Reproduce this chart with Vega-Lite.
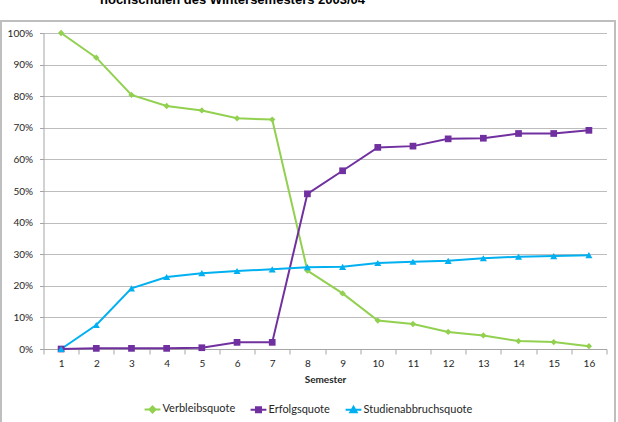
{
  "$schema": "https://vega.github.io/schema/vega-lite/v6.json",
  "autosize": {"type": "none"},
  "width": 563,
  "height": 316,
  "padding": {"left": 43.5, "top": 33, "right": 11.5, "bottom": 73},
  "background": "white",
  "title": {
    "text": "hochschulen des Wintersemesters 2003/04",
    "anchor": "start",
    "frame": "group",
    "dx": 56.5,
    "offset": 3,
    "baseline": "alphabetic",
    "font": "Liberation Sans",
    "fontSize": 13,
    "fontWeight": "bold",
    "color": "#000000"
  },
  "config": {
    "view": {"stroke": null},
    "axis": {"labelFont": "Lato", "labelFontSize": 10, "labelColor": "#262626", "titleFont": "Lato", "titleColor": "#262626"}
  },
  "data": {
    "values": [
      {"Semester": 1, "Reihe": "Verbleibsquote", "Wert": 100},
      {"Semester": 2, "Reihe": "Verbleibsquote", "Wert": 92.2},
      {"Semester": 3, "Reihe": "Verbleibsquote", "Wert": 80.4},
      {"Semester": 4, "Reihe": "Verbleibsquote", "Wert": 76.9},
      {"Semester": 5, "Reihe": "Verbleibsquote", "Wert": 75.5},
      {"Semester": 6, "Reihe": "Verbleibsquote", "Wert": 73.0},
      {"Semester": 7, "Reihe": "Verbleibsquote", "Wert": 72.6},
      {"Semester": 8, "Reihe": "Verbleibsquote", "Wert": 24.8},
      {"Semester": 9, "Reihe": "Verbleibsquote", "Wert": 17.6},
      {"Semester": 10, "Reihe": "Verbleibsquote", "Wert": 9.0},
      {"Semester": 11, "Reihe": "Verbleibsquote", "Wert": 7.9},
      {"Semester": 12, "Reihe": "Verbleibsquote", "Wert": 5.4},
      {"Semester": 13, "Reihe": "Verbleibsquote", "Wert": 4.3},
      {"Semester": 14, "Reihe": "Verbleibsquote", "Wert": 2.5},
      {"Semester": 15, "Reihe": "Verbleibsquote", "Wert": 2.2},
      {"Semester": 16, "Reihe": "Verbleibsquote", "Wert": 0.9},
      {"Semester": 1, "Reihe": "Erfolgsquote", "Wert": 0},
      {"Semester": 2, "Reihe": "Erfolgsquote", "Wert": 0.2},
      {"Semester": 3, "Reihe": "Erfolgsquote", "Wert": 0.2},
      {"Semester": 4, "Reihe": "Erfolgsquote", "Wert": 0.2},
      {"Semester": 5, "Reihe": "Erfolgsquote", "Wert": 0.4},
      {"Semester": 6, "Reihe": "Erfolgsquote", "Wert": 2.1},
      {"Semester": 7, "Reihe": "Erfolgsquote", "Wert": 2.1},
      {"Semester": 8, "Reihe": "Erfolgsquote", "Wert": 49.1},
      {"Semester": 9, "Reihe": "Erfolgsquote", "Wert": 56.4},
      {"Semester": 10, "Reihe": "Erfolgsquote", "Wert": 63.8},
      {"Semester": 11, "Reihe": "Erfolgsquote", "Wert": 64.2},
      {"Semester": 12, "Reihe": "Erfolgsquote", "Wert": 66.5},
      {"Semester": 13, "Reihe": "Erfolgsquote", "Wert": 66.7},
      {"Semester": 14, "Reihe": "Erfolgsquote", "Wert": 68.2},
      {"Semester": 15, "Reihe": "Erfolgsquote", "Wert": 68.2},
      {"Semester": 16, "Reihe": "Erfolgsquote", "Wert": 69.2},
      {"Semester": 1, "Reihe": "Studienabbruchsquote", "Wert": 0},
      {"Semester": 2, "Reihe": "Studienabbruchsquote", "Wert": 7.6},
      {"Semester": 3, "Reihe": "Studienabbruchsquote", "Wert": 19.2},
      {"Semester": 4, "Reihe": "Studienabbruchsquote", "Wert": 22.8},
      {"Semester": 5, "Reihe": "Studienabbruchsquote", "Wert": 24.0},
      {"Semester": 6, "Reihe": "Studienabbruchsquote", "Wert": 24.7},
      {"Semester": 7, "Reihe": "Studienabbruchsquote", "Wert": 25.2},
      {"Semester": 8, "Reihe": "Studienabbruchsquote", "Wert": 25.9},
      {"Semester": 9, "Reihe": "Studienabbruchsquote", "Wert": 26.0},
      {"Semester": 10, "Reihe": "Studienabbruchsquote", "Wert": 27.2},
      {"Semester": 11, "Reihe": "Studienabbruchsquote", "Wert": 27.6},
      {"Semester": 12, "Reihe": "Studienabbruchsquote", "Wert": 27.9},
      {"Semester": 13, "Reihe": "Studienabbruchsquote", "Wert": 28.7},
      {"Semester": 14, "Reihe": "Studienabbruchsquote", "Wert": 29.2},
      {"Semester": 15, "Reihe": "Studienabbruchsquote", "Wert": 29.4},
      {"Semester": 16, "Reihe": "Studienabbruchsquote", "Wert": 29.7}
    ]
  },
  "encoding": {
    "x": {
      "field": "Semester",
      "type": "quantitative",
      "scale": {"domain": [0.5, 16.5], "nice": false, "zero": false},
      "axis": {
        "title": "Semester",
        "titleFontSize": 10,
        "titleFontWeight": "bold",
        "titlePadding": 6,
        "values": [0.5, 1.5, 2.5, 3.5, 4.5, 5.5, 6.5, 7.5, 8.5, 9.5, 10.5, 11.5, 12.5, 13.5, 14.5, 15.5, 16.5],
        "labelExpr": "datum.value < 16 ? '' + (datum.value + 0.5) : ''",
        "labelOffset": 17.6,
        "labelOverlap": false,
        "labelFlush": false,
        "labelBound": false,
        "labelPadding": 4,
        "grid": false,
        "ticks": true,
        "tickSize": 5,
        "tickColor": "#A6A6A6",
        "domainColor": "#A6A6A6"
      }
    },
    "y": {
      "field": "Wert",
      "type": "quantitative",
      "scale": {"domain": [0, 100], "nice": false},
      "axis": {
        "title": null,
        "values": [0, 10, 20, 30, 40, 50, 60, 70, 80, 90, 100],
        "labelExpr": "datum.value + '%'",
        "grid": true,
        "gridColor": "#BDBDBD",
        "tickColor": "#A6A6A6",
        "domainColor": "#A6A6A6",
        "tickSize": 4,
        "labelPadding": 7
      }
    },
    "color": {
      "field": "Reihe",
      "type": "nominal",
      "scale": {
        "domain": ["Verbleibsquote", "Erfolgsquote", "Studienabbruchsquote"],
        "range": ["#92D050", "#7030A0", "#00B0F0"]
      },
      "legend": {
        "title": null,
        "orient": "none",
        "legendX": 100,
        "legendY": 367,
        "direction": "horizontal",
        "labelFont": "Lato",
        "labelFontSize": 11,
        "labelColor": "#262626",
        "symbolSize": 250,
        "symbolStrokeWidth": 2,
        "columnPadding": 11,
        "labelOffset": 1,
        "encode": {
          "symbols": {
            "update": {
              "shape": {"signal": "datum.value === 'Verbleibsquote' ? 'M-1,0H1M0,-0.38L0.38,0L0,0.38L-0.38,0Z' : datum.value === 'Erfolgsquote' ? 'M-1,0H1M-0.32,-0.32H0.32V0.32H-0.32Z' : 'M-1,0H1M0,-0.4L0.4,0.3H-0.4Z'"},
              "fill": {"scale": "color", "field": "value"},
              "stroke": {"scale": "color", "field": "value"},
              "strokeWidth": {"value": 2},
              "opacity": {"value": 1}
            }
          }
        }
      }
    }
  },
  "layer": [
    {
      "mark": {"type": "rect", "fill": "transparent", "stroke": "#BFBFBF", "strokeWidth": 1.5},
      "encoding": {
        "x": {"datum": -0.71},
        "x2": {"datum": 16.74},
        "y": {"datum": 103.8},
        "y2": {"datum": -40},
        "color": {"value": "transparent"},
        "stroke": {"value": "#BFBFBF"}
      }
    },
    {
      "mark": {"type": "line", "strokeWidth": 2}
    },
    {
      "transform": [{"filter": "datum.Reihe === 'Verbleibsquote'"}],
      "mark": {"type": "point", "filled": true, "opacity": 1, "shape": "diamond", "size": 40}
    },
    {
      "transform": [{"filter": "datum.Reihe === 'Erfolgsquote'"}],
      "mark": {"type": "point", "filled": true, "opacity": 1, "shape": "square", "size": 45}
    },
    {
      "transform": [{"filter": "datum.Reihe === 'Studienabbruchsquote'"}],
      "mark": {"type": "point", "filled": true, "opacity": 1, "shape": "triangle-up", "size": 50}
    }
  ]
}
